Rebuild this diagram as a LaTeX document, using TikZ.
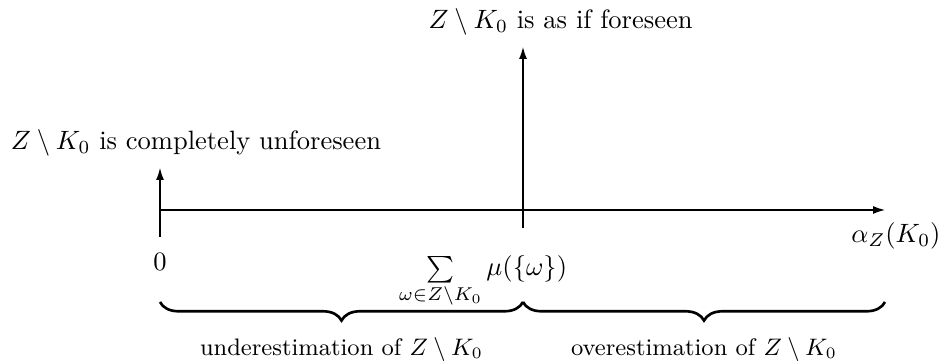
\documentclass[tikz,border=0pt]{standalone}
\usepackage{amsmath,amssymb}
\usetikzlibrary{arrows.meta,decorations.pathreplacing}
\begin{document}
\begin{tikzpicture}[x=0.377pt,y=-0.377pt,
  axis/.style={-{Latex[length=4.5pt,width=3pt]},line width=0.45pt},
  bracestyle/.style={decorate,decoration={brace,mirror,amplitude=7pt},line width=1pt},
  lbl/.style={inner sep=0pt,font=\small}]
\useasboundingbox (0,0) rectangle (944,362);
\coordinate (o) at (160,210);
\coordinate (xe) at (885,210);
\coordinate (lb) at (160,237);
\coordinate (lt) at (160,168);
\coordinate (mb) at (523,228);
\coordinate (mt) at (523,47);
\coordinate (bl) at (160,302);
\coordinate (bm) at (523,302);
\coordinate (br) at (885,302);
\draw[axis] (o) -- (xe);
\draw[axis] (lb) -- (lt);
\draw[axis] (mb) -- (mt);
\node[inner sep=0pt] (tl) at (196,143) {$Z\setminus K_0$ is completely unforeseen};
\node[inner sep=0pt,anchor=west] (tt) at (428,22) {$Z\setminus K_0$ is as if foreseen};
\node[inner sep=0pt,anchor=east] (ax) at (941,236) {$\alpha_Z(K_0)$};
\node[inner sep=0pt] (zero) at (160,262) {$0$};
\node[inner sep=0pt,anchor=base] (sum) at (483,276) {$\sum\limits_{\omega\in Z\setminus K_0}\mu(\{\omega\})$};
\draw[bracestyle] (bl) -- (bm) node[midway,below=13pt,lbl] (u) {underestimation of $Z\setminus K_0$};
\draw[bracestyle] (bm) -- (br) node[midway,below=13pt,lbl] (v) {overestimation of $Z\setminus K_0$};
\end{tikzpicture}
\end{document}
